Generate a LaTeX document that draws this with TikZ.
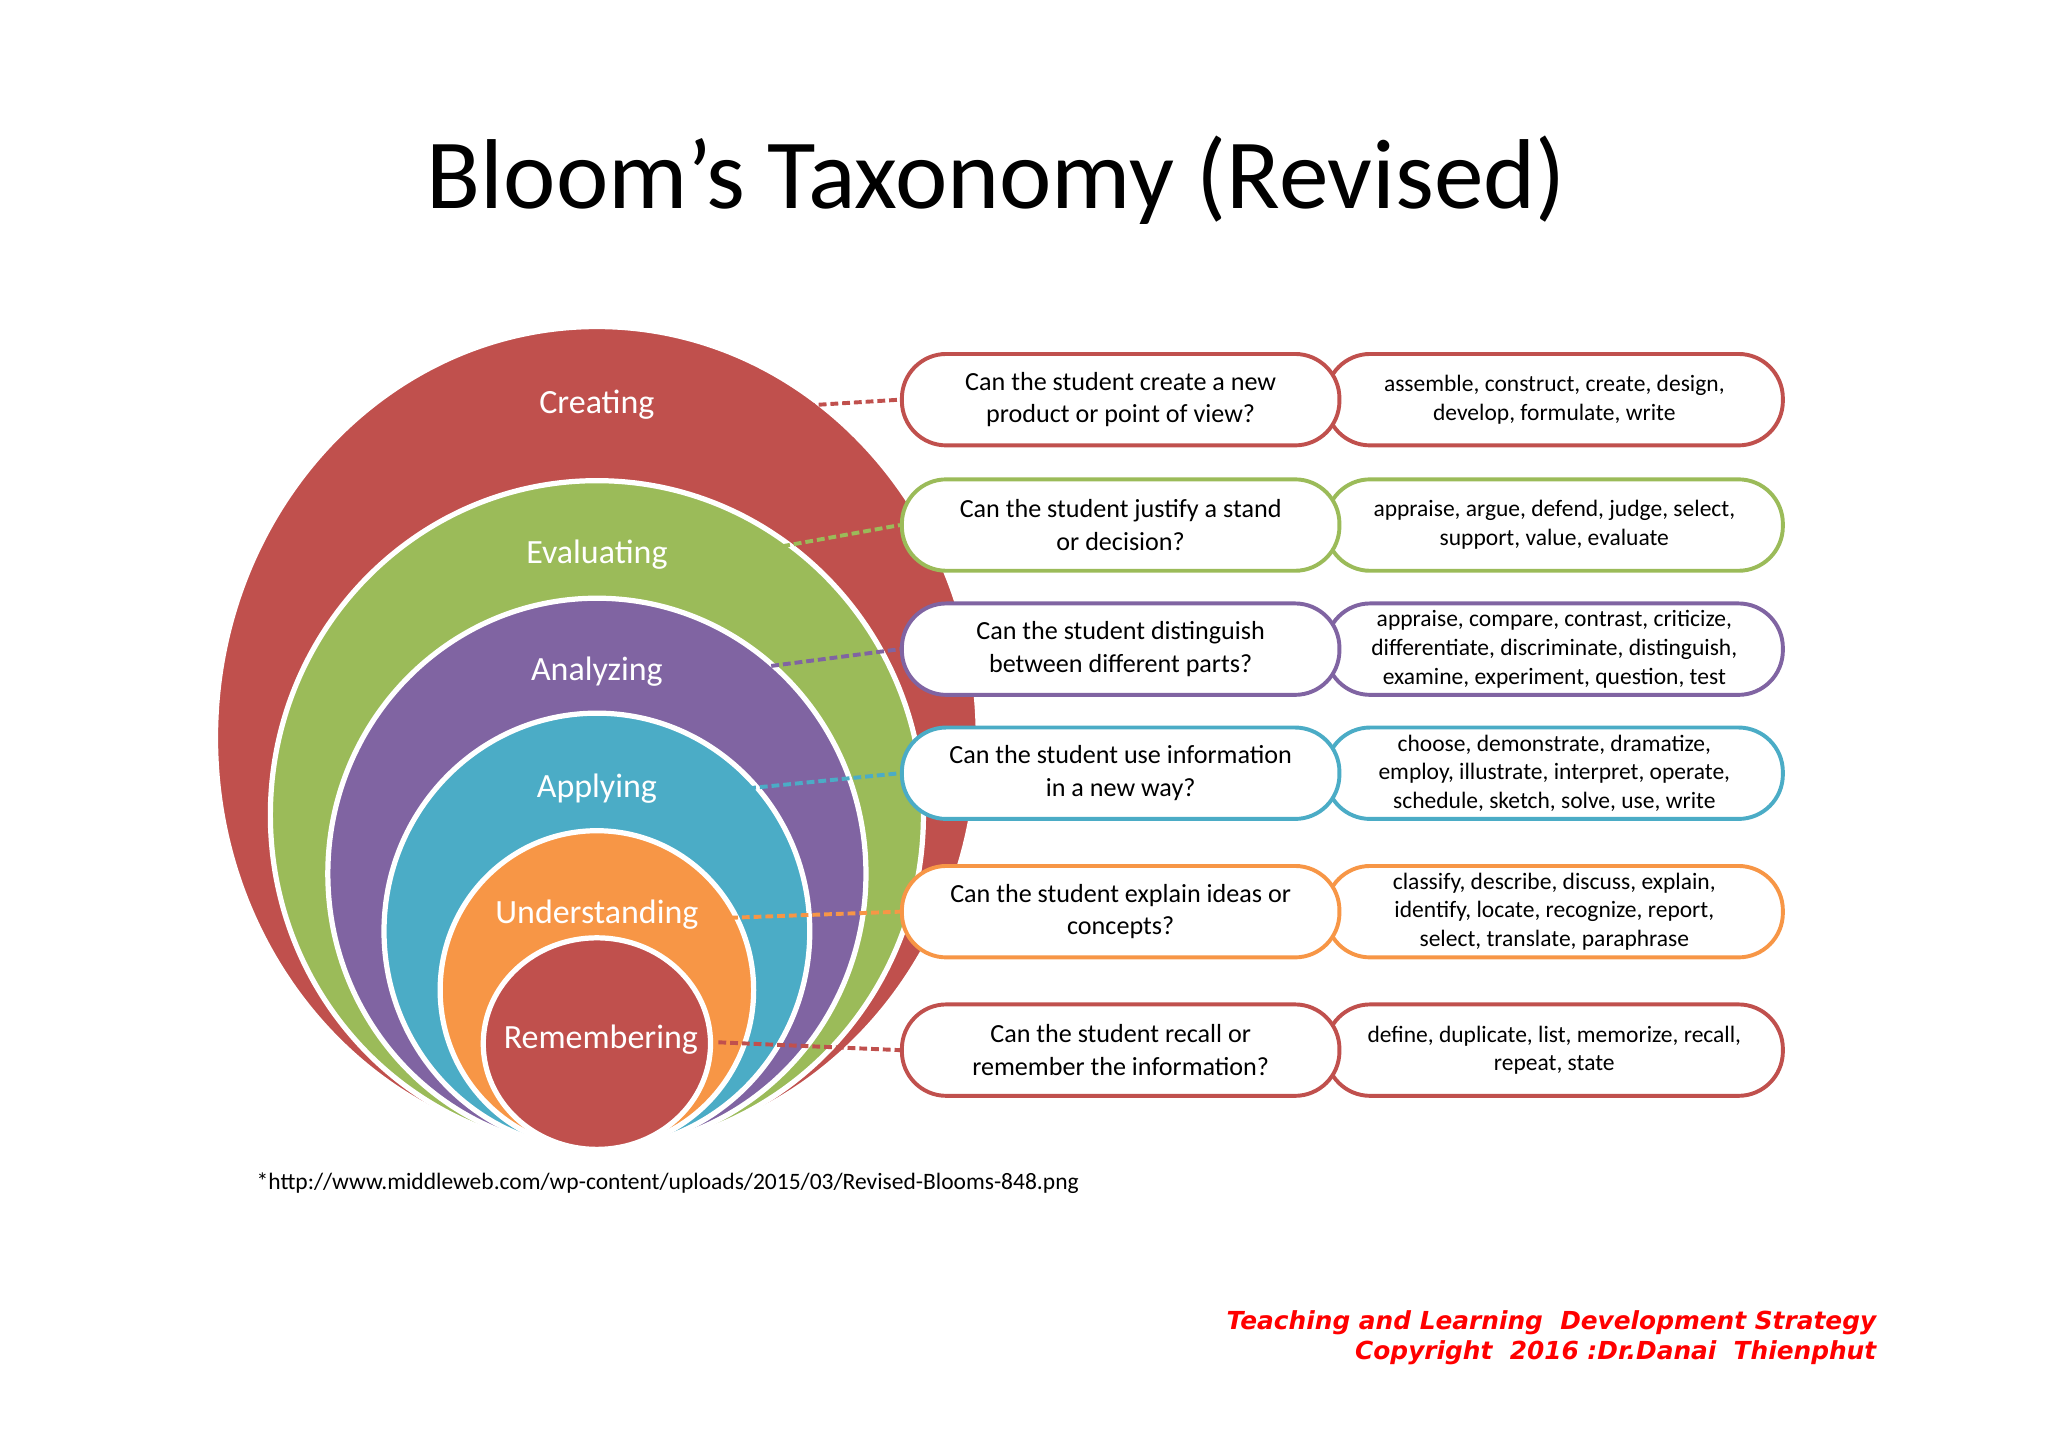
\documentclass[tikz,border=0pt]{standalone}
\usepackage{fontspec}
\setmainfont{Carlito}
\newfontfamily\footfont{DejaVu Sans}
\begin{document}
\begin{tikzpicture}[x=1pt,y=-1pt,
  ring/.style={draw=white,line width=4pt},
  lbl/.style={text=white,font=\fontsize{26}{30}\selectfont},
  qbox/.style={draw=#1,line width=3pt,fill=white,rounded corners=34pt,minimum width=335pt,minimum height=70pt,align=center,font=\fontsize{20}{25}\selectfont},
  vbox/.style={draw=#1,line width=3pt,fill=white,rounded corners=34pt,minimum width=350pt,minimum height=70pt,align=center,font=\fontsize{18}{22}\selectfont},
  conn/.style={draw=#1,dash pattern=on 6pt off 3pt,line width=3pt}]
\definecolor{cR}{HTML}{C0504D}\definecolor{cG}{HTML}{9BBB59}\definecolor{cP}{HTML}{8064A2}
\definecolor{cB}{HTML}{4BACC6}\definecolor{cO}{HTML}{F79646}
\useasboundingbox (0,0) rectangle (1568,1108);
\node[font=\fontsize{76}{86}\selectfont] (title) at (763,138) {Bloom’s Taxonomy (Revised)};
\fill[ring,fill=cR] (457,565) ellipse [x radius=292,y radius=315];
\fill[ring,fill=cG] (457,624) ellipse [x radius=250,y radius=256];
\fill[ring,fill=cP] (457,669) ellipse [x radius=206,y radius=211];
\fill[ring,fill=cB] (457,713) ellipse [x radius=163,y radius=167];
\fill[ring,fill=cO] (457,758) ellipse [x radius=120,y radius=122];
\fill[ring,fill=cR] (457,799) ellipse [x radius=87,y radius=81];
\node[lbl] (l1) at (457,310) {Creating};
\node[lbl] (l2) at (457,425) {Evaluating};
\node[lbl] (l3) at (457,514) {Analyzing};
\node[lbl] (l4) at (457,604) {Applying};
\node[lbl] (l5) at (457,700) {Understanding};
\node[lbl] (l6) at (460,796) {Remembering};
\foreach \i/\c/\y/\ly/\sx/\q/\v in {
 1/cR/306/316/528/{Can the student create a new\\product or point of view?}/{assemble, construct, create, design,\\develop, formulate, write},
 2/cG/402/431/528/{Can the student justify a stand\\or decision?}/{appraise, argue, defend, judge, select,\\support, value, evaluate},
 3/cP/497/518/528/{Can the student distinguish\\between different parts?}/{appraise, compare, contrast, criticize,\\differentiate, discriminate, distinguish,\\examine, experiment, question, test},
 4/cB/592/608/528/{Can the student use information\\in a new way?}/{choose, demonstrate, dramatize,\\employ, illustrate, interpret, operate,\\schedule, sketch, solve, use, write},
 5/cO/698/703/550/{Can the student explain ideas or\\concepts?}/{classify, describe, discuss, explain,\\identify, locate, recognize, report,\\select, translate, paraphrase},
 6/cR/804/798/550/{Can the student recall or\\remember the information?}/{define, duplicate, list, memorize, recall,\\repeat, state}}{
 \node[vbox=\c] (v\i) at (1190,\y) {\v};
 \node[qbox=\c] (q\i) at (858,\y) {\q};
 \coordinate (s\i) at (\sx,\ly);
 \draw[conn=\c] (s\i) -- (q\i.west);
}
\node[anchor=west,font=\fontsize{18}{20}\selectfont] (src) at (193,906) {*http://www.middleweb.com/wp-content/uploads/2015/03/Revised-Blooms-848.png};
\node[anchor=east,align=right,text=red,font=\footfont\bfseries\itshape\fontsize{19}{23}\selectfont] (ft) at (1440,1024) {Teaching and Learning\ \ Development Strategy\\Copyright\ \ 2016\ :Dr.Danai\ \ Thienphut};
\end{tikzpicture}
\end{document}
